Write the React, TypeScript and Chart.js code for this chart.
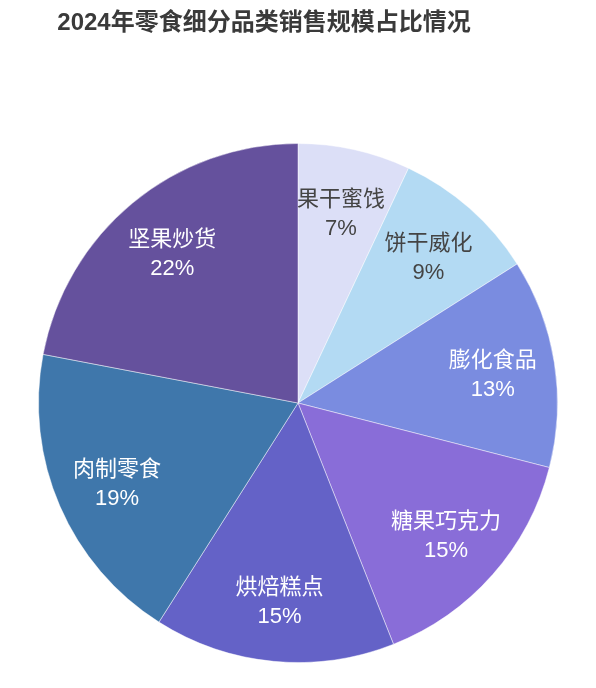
import React, { useEffect, useRef } from 'react';
import { Chart, registerables } from 'chart.js';
import type { ChartConfiguration, Plugin } from 'chart.js';

Chart.register(...registerables);

const title = '2024年零食细分品类销售规模占比情况';
const categories = ['果干蜜饯', '饼干威化', '膨化食品', '糖果巧克力', '烘焙糕点', '肉制零食', '坚果炒货'];
const shares = [7, 9, 13, 15, 15, 19, 22];
const sliceColors = ['#dcdff7', '#b3daf3', '#7a8ce0', '#896dd8', '#6462c7', '#3f77ab', '#65519d'];
const labelColors = ['#444444', '#444444', '#ffffff', '#ffffff', '#ffffff', '#ffffff', '#ffffff'];

const FONT = '"Liberation Sans", "Noto Sans CJK SC", sans-serif';

// draws "name / pct%" inside each slice
const sliceLabels: Plugin<'pie'> = {
  id: 'sliceLabels',
  afterDatasetsDraw(chart) {
    const ctx = chart.ctx;
    const meta = chart.getDatasetMeta(0);
    ctx.save();
    ctx.textAlign = 'center';
    ctx.textBaseline = 'middle';
    ctx.font = `22px ${FONT}`;
    meta.data.forEach((el: any, i) => {
      const { x, y, startAngle, endAngle, outerRadius } = el.getProps(['x', 'y', 'startAngle', 'endAngle', 'outerRadius'], true);
      const mid = (startAngle + endAngle) / 2;
      const r = outerRadius * 0.76;
      const cx = x + Math.cos(mid) * r;
      const cy = y + Math.sin(mid) * r + 3;
      ctx.fillStyle = labelColors[i];
      ctx.fillText(categories[i], cx, cy - 14);
      ctx.fillText(`${shares[i]}%`, cx, cy + 15);
    });
    ctx.restore();
  }
};

const App: React.FC = () => {
  const chartRef = useRef<HTMLCanvasElement>(null);
  const chartInstanceRef = useRef<Chart | null>(null);

  useEffect(() => {
    if (!chartRef.current) return;
    if (chartInstanceRef.current) chartInstanceRef.current.destroy();

    const config: ChartConfiguration<'pie'> = {
      type: 'pie',
      data: {
        labels: categories,
        datasets: [{
          data: shares,
          backgroundColor: sliceColors,
          borderColor: 'rgba(255, 255, 255, 0.45)',
          borderWidth: 1
        }]
      },
      options: {
        responsive: true,
        maintainAspectRatio: false,
        animation: false,
        layout: { padding: { top: 143, bottom: 25, left: 0, right: 0 } },
        plugins: {
          legend: { display: false },
          tooltip: { enabled: false },
          title: { display: false }
        }
      },
      plugins: [sliceLabels]
    };

    chartInstanceRef.current = new Chart(chartRef.current, config);

    return () => {
      if (chartInstanceRef.current) {
        chartInstanceRef.current.destroy();
        chartInstanceRef.current = null;
      }
    };
  }, []);

  return (
    <div style={{ position: 'fixed', left: 0, top: 0, width: 596, height: 688, background: '#fff' }}>
      <div style={{
        position: 'absolute', left: 0, top: 6, width: 528, textAlign: 'center',
        font: `bold 24px ${FONT}`, lineHeight: '32px', color: '#3a3a3a'
      }}>
        {title}
      </div>
      <canvas ref={chartRef}></canvas>
    </div>
  );
};

export default App;
